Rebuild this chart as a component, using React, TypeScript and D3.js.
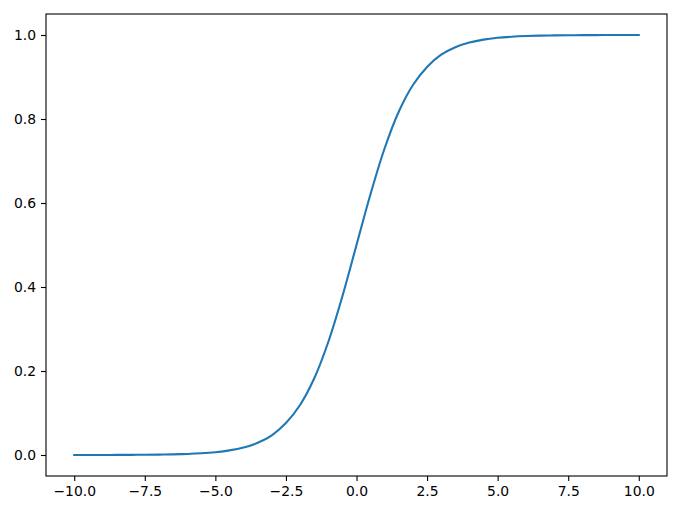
import React, { useEffect, useRef } from 'react';
import * as d3 from 'd3';

// values, x every 0.5
const xs = [
  -10, -9.5, -9, -8.5, -8, -7.5, -7, -6.5, -6, -5.5, -5, -4.5, -4, -3.5, -3, -2.5, -2, -1.5, -1, -0.5,
  0, 0.5, 1, 1.5, 2, 2.5, 3, 3.5, 4, 4.5, 5, 5.5, 6, 6.5, 7, 7.5, 8, 8.5, 9, 9.5, 10,
];
const ys = [
  0.0000, 0.0001, 0.0001, 0.0002, 0.0003, 0.0006, 0.0009, 0.0015, 0.0025, 0.0041, 0.0067, 0.011, 0.018,
  0.029, 0.047, 0.076, 0.119, 0.182, 0.269, 0.378,
  0.5, 0.622, 0.731, 0.818, 0.881, 0.924, 0.953, 0.971, 0.982, 0.989, 0.9933, 0.9959, 0.9975, 0.9985,
  0.9991, 0.9994, 0.9997, 0.9998, 0.9999, 0.9999, 1.0,
];
const xTicks = [-10, -7.5, -5, -2.5, 0, 2.5, 5, 7.5, 10];
const yTicks = [0, 0.2, 0.4, 0.6, 0.8, 1.0];

export default function App() {
  const ref = useRef<SVGSVGElement>(null);

  useEffect(() => {
    if (!ref.current) return;
    const svg = d3.select(ref.current);
    svg.selectAll('*').remove();

    const left = 46, right = 667, top = 14, bottom = 476;
    const x = d3.scaleLinear().domain([-11, 11]).range([left, right]);
    const y = d3.scaleLinear().domain([-0.05, 1.05]).range([bottom, top]);
    const fmt = (v: number) => v.toFixed(1).replace('-', '\u2212');

    const xAxis = svg.append('g')
      .attr('transform', `translate(0,${bottom})`)
      .call(d3.axisBottom(x).tickValues(xTicks).tickFormat(fmt as any).tickSize(5).tickPadding(5));
    const yAxis = svg.append('g')
      .attr('transform', `translate(${left},0)`)
      .call(d3.axisLeft(y).tickValues(yTicks).tickFormat(fmt as any).tickSize(5).tickPadding(5));

    [xAxis, yAxis].forEach(a => {
      a.select('.domain').remove();
      a.selectAll('line').attr('stroke', '#000').attr('stroke-width', 1.1);
      a.selectAll('text')
        .attr('fill', '#000')
        .attr('font-family', 'DejaVu Sans')
        .attr('font-size', 13.9);
    });
    yAxis.selectAll('text').attr('dy', '0.35em');

    const line = d3.line<number>()
      .x((_, i) => x(xs[i]))
      .y(d => y(d))
      .curve(d3.curveCatmullRom);

    svg.append('path')
      .datum(ys)
      .attr('fill', 'none')
      .attr('stroke', '#1f77b4')
      .attr('stroke-width', 2.1)
      .attr('stroke-linecap', 'square')
      .attr('d', line);

    svg.append('rect')
      .attr('x', left)
      .attr('y', top)
      .attr('width', right - left)
      .attr('height', bottom - top)
      .attr('fill', 'none')
      .attr('stroke', '#000')
      .attr('stroke-width', 1.1);
  }, []);

  return (
    <div style={{ position: 'absolute', left: 0, top: 0 }}>
      <svg ref={ref} width={700} height={519} style={{ display: 'block', background: '#fff' }} />
    </div>
  );
}
